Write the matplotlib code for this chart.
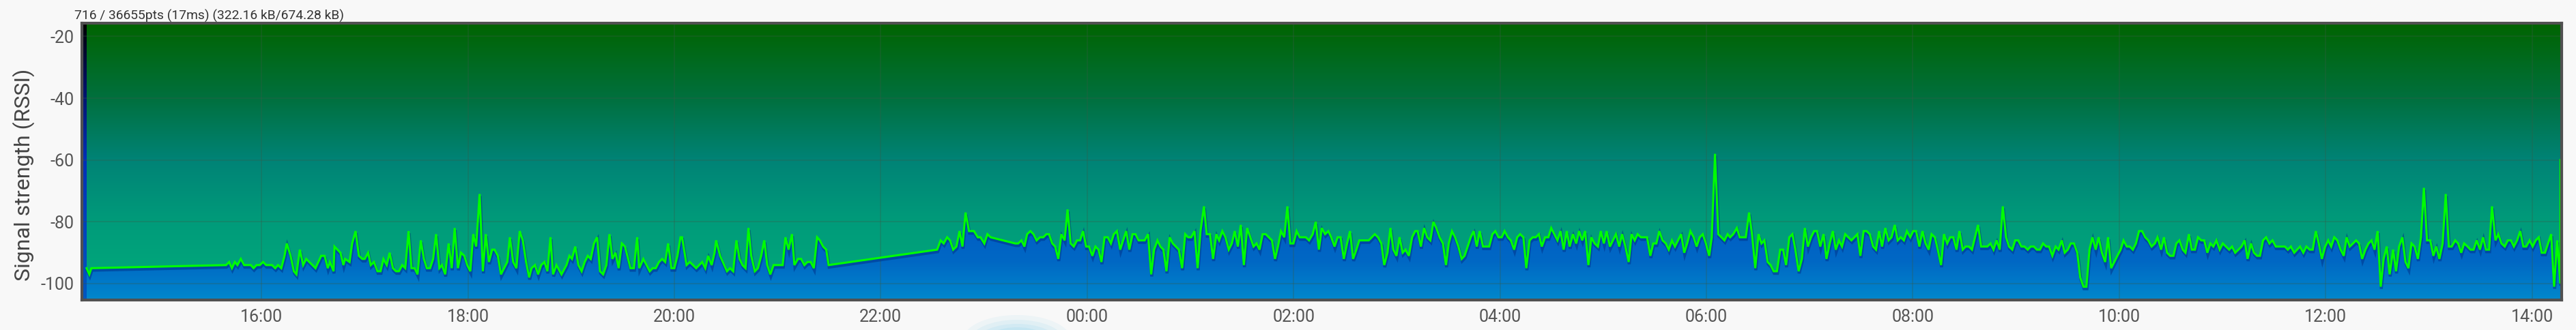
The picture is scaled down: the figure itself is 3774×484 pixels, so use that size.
import numpy as np
import matplotlib
matplotlib.use("Agg")
import matplotlib.pyplot as plt
import matplotlib.patheffects as pe
from matplotlib.colors import LinearSegmentedColormap
from matplotlib.patches import Ellipse

plt.rcParams['font.family'] = ['Roboto', 'DejaVu Sans']

# ---------------- data ----------------
# time in minutes since 14:00 (day 1), RSSI in dBm
sample_minutes = [
    18.3, 19.9, 21.1, 99.4, 101.2, 102.8, 104.5, 106.0, 108.0, 109.9,
    113.8, 115.4, 117.1, 119.0, 120.9, 122.7, 126.1, 128.0, 129.6, 131.5,
    133.4, 134.7, 136.9, 138.8, 140.3, 142.3, 144.2, 146.0, 149.6, 151.4,
    154.7, 156.7, 158.5, 159.8, 161.9, 162.4, 165.9, 167.6, 168.6, 171.2,
    172.7, 174.7, 176.6, 178.6, 180.0, 182.0, 183.5, 185.4, 187.4, 189.2,
    190.9, 192.8, 194.5, 196.4, 198.2, 199.9, 201.8, 203.6, 205.5, 207.2,
    209.0, 210.7, 212.6, 214.4, 216.1, 218.0, 219.8, 221.5, 223.4, 224.9,
    226.8, 228.8, 230.6, 232.3, 234.2, 236.0, 237.9, 239.6, 241.4, 243.1,
    244.8, 246.8, 248.7, 250.4, 252.2, 254.1,
    255.5, 257.4, 259.2, 262.9, 264.4, 266.3, 268.2, 270.1, 271.9, 273.8,
    275.6, 277.0, 279.0, 280.8, 282.6, 284.5, 286.2, 288.0, 289.5, 291.5,
    294.4, 297.3, 299.0, 300.5, 302.4, 304.2, 306.1, 307.9, 309.7, 311.4,
    313.3, 315.1, 316.8, 318.6, 320.5, 322.3, 324.0, 325.8, 327.6, 329.5,
    331.3, 334.5, 336.5, 338.4, 339.6, 342.0, 345.7, 347.4, 349.2, 351.1,
    352.9, 354.7, 356.4, 358.3, 360.0, 361.8, 363.6, 364.5, 367.1, 369.0,
    372.7, 376.2, 378.0, 379.7, 381.7, 383.4, 384.3, 386.6, 390.6, 392.4,
    394.2, 396.1, 397.9, 399.6, 401.4, 403.1, 404.7, 406.8, 408.6, 410.5,
    412.3, 414.0, 415.8, 417.7, 423.0, 424.6, 426.4, 428.4, 429.8, 431.9,
    433.7, 435.6, 437.4, 439.3, 441.1, 443.0, 444.6, 446.5, 448.3, 449.7,
    512.8, 514.8, 516.6, 518.6, 520.3, 522.1, 524.0, 525.8, 527.5, 529.3,
    531.3, 534.2, 536.4, 538.0, 540.2, 542.0, 543.9, 558.2, 559.9, 561.8,
    563.5, 565.1, 567.0, 568.8, 570.6, 572.6, 574.5, 576.3, 577.8, 579.7,
    581.4, 583.2, 585.0, 586.9, 588.6, 590.4, 592.2, 594.1, 595.9, 597.6,
    599.4, 601.1, 603.0, 604.8, 606.6, 608.3, 610.1, 612.0, 613.8, 615.5,
    617.3, 619.2, 620.9, 622.7, 624.5, 626.4, 628.1, 629.9, 633.4, 635.4,
    637.2, 638.9, 640.9, 642.6, 644.3, 646.1, 648.0, 649.8, 653.3, 655.2,
    657.0, 658.7, 660.5, 662.4, 664.2, 665.9, 667.9, 669.5, 671.4, 673.2,
    675.1, 676.7, 678.6, 680.4, 682.3, 684.1, 685.8, 687.6, 689.3, 691.1,
    693.0, 696.7, 698.5, 700.2, 702.0, 703.8, 707.4, 709.2, 710.9, 712.7,
    714.6, 716.4, 718.1, 719.9, 721.8, 723.6, 727.1, 729.0,
    731.1, 732.9, 734.7, 736.4, 738.3, 740.2, 741.9, 743.8, 745.6, 747.3,
    749.2, 751.1, 752.8, 754.6, 756.5, 758.2, 763.7, 767.2, 769.1, 771.0,
    772.7, 774.6, 776.3, 778.0, 779.8, 781.6, 783.4, 785.1, 787.0, 788.9,
    790.7, 792.1, 794.0, 795.9, 797.7, 799.5, 801.3, 803.0, 804.9, 806.8,
    808.6, 810.2, 812.1, 813.9, 815.8, 817.7, 819.4, 823.0, 824.7, 826.5,
    828.2, 830.1, 833.7, 835.6, 837.3, 839.1, 841.0, 842.7, 844.6, 846.3,
    848.2, 850.0, 851.7, 853.6, 855.3, 857.2, 859.0, 860.8, 862.6, 864.3,
    866.2, 868.1, 869.8, 871.6, 873.4, 875.2, 877.0, 878.8, 880.5, 882.4,
    884.3, 886.0, 887.8, 889.5, 891.4, 893.1, 895.0, 896.9, 898.6, 900.4,
    902.0, 903.9, 907.4, 909.3, 911.0, 912.9, 914.8, 916.5, 918.3, 920.0,
    921.9, 925.5, 927.4, 929.1, 930.9, 932.6, 934.5, 936.4, 938.1, 940.0,
    941.7, 945.3, 947.1, 948.8, 950.7, 952.6, 954.3, 956.1, 957.9, 959.7,
    961.6, 963.1, 965.0, 966.9, 970.5, 972.3,
    973.8, 975.6, 977.7, 979.4, 982.9, 984.8, 986.5, 988.4, 990.3, 992.0,
    993.7, 995.6, 997.3, 999.1, 1001.0, 1002.9, 1004.6, 1006.3, 1008.2, 1010.0,
    1011.7, 1013.6, 1015.5, 1017.2, 1019.0, 1020.8, 1022.6, 1024.3, 1026.2, 1028.1,
    1029.8, 1031.7, 1033.5, 1035.2, 1037.1, 1038.8, 1040.7, 1044.3, 1047.8, 1049.5,
    1051.4, 1053.1, 1055.0, 1056.9, 1058.6, 1060.4, 1062.1, 1064.0, 1065.9, 1067.6,
    1069.5, 1071.2, 1073.0, 1074.8, 1076.6, 1078.5, 1080.2, 1081.9, 1083.8, 1085.6,
    1087.4, 1089.2, 1090.9, 1092.8, 1094.5, 1096.4, 1098.1, 1100.0, 1101.7, 1103.5,
    1105.4, 1107.1, 1109.0, 1110.7, 1112.6, 1114.4, 1117.9, 1119.7, 1123.3, 1125.2,
    1126.9, 1128.7, 1130.5, 1132.3, 1134.2, 1135.9, 1137.8, 1139.5, 1141.3, 1143.1,
    1144.9, 1146.8, 1148.5, 1150.4, 1152.1, 1153.9, 1155.7, 1157.5, 1159.2, 1161.1,
    1163.0, 1164.7, 1166.6, 1168.3, 1170.1, 1171.8, 1173.7, 1175.6, 1177.3, 1179.2,
    1180.9, 1182.7, 1184.4, 1186.3, 1188.0, 1189.9, 1191.8, 1193.5, 1195.3, 1197.1,
    1198.9, 1200.8, 1202.5, 1204.4, 1206.1, 1207.9, 1209.7, 1211.5, 1213.3, 1215.1,
    1216.9, 1218.8, 1220.7, 1222.3, 1224.3, 1226.0, 1227.8, 1229.6, 1231.5, 1233.2,
    1235.0, 1236.9, 1238.5, 1240.5, 1242.2, 1244.0, 1245.8, 1247.7, 1249.4, 1251.2,
    1253.0, 1254.7, 1256.5, 1258.4, 1260.2, 1262.0, 1263.9, 1265.6, 1267.4, 1269.3,
    1271.1, 1272.9, 1274.6, 1276.6, 1278.3, 1280.1, 1281.8, 1283.6, 1285.4, 1287.3,
    1289.1, 1291.0, 1296.3, 1298.0, 1299.8, 1301.7, 1305.1, 1307.0, 1308.8, 1310.7,
    1312.5, 1314.3, 1316.0, 1317.8, 1319.7, 1321.5, 1323.2, 1325.0, 1326.8, 1328.7,
    1330.5, 1332.2, 1334.0, 1335.9, 1337.7, 1339.4, 1341.2, 1343.1, 1344.9, 1346.7,
    1348.4, 1350.2, 1352.0, 1353.7, 1355.5, 1357.2, 1359.2, 1360.9, 1362.7, 1364.6,
    1366.4, 1368.1, 1369.9, 1371.7, 1373.6, 1375.4, 1377.1, 1378.9, 1380.8, 1382.6,
    1384.3, 1386.1, 1388.0, 1389.8, 1391.6, 1393.3, 1395.3, 1397.0, 1398.8, 1400.5,
    1402.5, 1404.2, 1406.0, 1407.8, 1409.7, 1411.5, 1413.2, 1415.0, 1416.7, 1418.7,
    1420.4, 1422.2, 1424.1, 1425.9, 1427.7, 1429.4, 1431.3, 1433.1, 1434.9, 1436.6,
    1438.6, 1440.3, 1442.1, 1443.9, 1445.6, 1447.5, 1449.3, 1451.1, 1452.8, 1454.6,
    1456.4, 1456.5,
]

sample_rssi = [
    -95, -97, -95, -94, -93, -95, -93, -94, -92, -94,
    -94, -95, -94, -94, -93, -94, -94, -95, -94, -95,
    -91, -87, -91, -96, -97, -89, -94, -92, -94, -95,
    -91, -91, -95, -93, -96, -88, -90, -94, -92, -93,
    -87, -83, -91, -92, -92, -90, -94, -93, -96, -96,
    -92, -94, -90, -95, -96, -96, -94, -95, -83, -95,
    -95, -97, -86, -92, -95, -95, -92, -84, -95, -94,
    -97, -87, -95, -82, -95, -90, -91, -94, -96, -84,
    -88, -71, -96, -84, -93, -89,
    -89, -91, -97, -93, -85, -93, -95, -83, -86, -93,
    -98, -95, -94, -97, -94, -93, -96, -85, -97, -94,
    -97, -94, -91, -92, -88, -94, -96, -93, -91, -92,
    -87, -85, -96, -97, -94, -84, -92, -90, -95, -87,
    -88, -95, -95, -85, -95, -92, -96, -95, -95, -93,
    -92, -93, -87, -95, -95, -91, -85, -85, -94, -93,
    -95, -93, -95, -91, -94, -90, -86, -91, -96, -95,
    -96, -86, -92, -94, -95, -82, -91, -96, -95, -91,
    -86, -94, -97, -94, -94, -85, -89, -84, -94, -92,
    -92, -94, -93, -93, -95, -85, -86, -88, -89, -94,
    -89, -86, -87, -85, -86, -89, -88, -83, -88, -77,
    -83, -83, -85, -85, -87, -84, -85, -87, -87, -86,
    -88, -84, -83, -84, -86, -85, -85, -84, -84, -87,
    -88, -92, -84, -86, -76, -87, -88, -86, -86, -83,
    -88, -88, -91, -88, -89, -93, -85, -85, -87, -84,
    -83, -89, -86, -83, -89, -84, -84, -86, -86, -84,
    -97, -89, -86, -88, -89, -96, -85, -87, -89, -95,
    -84, -85, -85, -83, -95, -83, -75, -84, -84, -92,
    -84, -86, -83, -85, -89, -87, -83, -88, -81, -94,
    -82, -88, -87, -89, -84, -84, -86, -92, -88, -83,
    -85, -75, -87, -87, -83, -85, -85, -86,
    -84, -80, -89, -82, -84, -83, -85, -88, -85, -85,
    -92, -87, -83, -92, -89, -86, -86, -84, -85, -87,
    -94, -90, -82, -89, -91, -85, -90, -89, -91, -85,
    -83, -83, -88, -82, -85, -86, -80, -82, -85, -87,
    -94, -87, -83, -85, -88, -92, -91, -85, -83, -88,
    -83, -88, -88, -84, -83, -85, -85, -83, -85, -86,
    -89, -85, -84, -85, -95, -86, -85, -85, -84, -88,
    -85, -85, -82, -84, -86, -83, -89, -83, -88, -84,
    -87, -83, -86, -83, -94, -85, -87, -88, -83, -87,
    -83, -88, -84, -88, -84, -88, -93, -84, -86, -84,
    -85, -85, -91, -87, -87, -83, -86, -87, -89, -86,
    -88, -84, -90, -87, -83, -85, -88, -85, -84, -87,
    -91, -85, -58, -84, -86, -84,
    -85, -84, -82, -85, -85, -77, -84, -95, -84, -87,
    -86, -93, -94, -96, -96, -89, -89, -94, -85, -84,
    -89, -96, -92, -82, -88, -85, -83, -83, -88, -84,
    -92, -87, -83, -89, -86, -88, -84, -86, -84, -91,
    -83, -83, -84, -88, -89, -83, -88, -82, -86, -85,
    -81, -86, -85, -86, -83, -85, -83, -83, -88, -83,
    -87, -89, -84, -85, -89, -94, -84, -87, -85, -85,
    -89, -83, -89, -88, -88, -89, -81, -88, -88, -87,
    -89, -86, -89, -75, -85, -88, -89, -86, -86, -88,
    -88, -89, -88, -88, -89, -89, -87, -88, -88, -91,
    -88, -89, -86, -90, -89, -87, -87, -90, -98, -101,
    -101, -89, -85, -89, -85, -90, -93, -85, -95, -93,
    -91, -89, -86, -88, -88, -89, -87, -83, -83, -85,
    -86, -88, -87, -85, -89, -85, -90, -91, -91, -87,
    -86, -89, -90, -84, -89, -89, -85, -86, -86, -90,
    -87, -88, -86, -89, -87, -88, -89, -88, -90, -89,
    -88, -86, -92, -87, -90, -91, -91, -86, -85, -87,
    -86, -88, -88, -89, -88, -90, -88, -90, -88, -89,
    -89, -83, -87, -92, -88, -86, -88, -85, -86, -89,
    -91, -85, -88, -87, -86, -87, -92, -89, -87, -86,
    -89, -83, -101, -92, -88, -97, -89, -96, -88, -85,
    -93, -95, -87, -88, -92, -85, -69, -86, -86, -91,
    -88, -92, -87, -71, -88, -88, -86, -87, -90, -87,
    -88, -89, -89, -86, -89, -85, -89, -89, -75, -86,
    -84, -87, -88, -86, -86, -88, -86, -83, -88, -88,
    -86, -88, -86, -85, -90, -90, -87, -84, -101, -86,
    -100, -60,
]

x_tick_minutes = [120, 240, 360, 480, 600, 720, 840, 960, 1080, 1200, 1320, 1440]
x_tick_labels = ["16:00", "18:00", "20:00", "22:00", "00:00", "02:00",
                 "04:00", "06:00", "08:00", "10:00", "12:00", "14:00"]
y_ticks = [-20, -40, -60, -80, -100]
y_tick_labels = ["-20", "-40", "-60", "-80", "-100"]

y_label = "Signal strength (RSSI)"
info_text = "716 / 36655pts (17ms) (322.16 kB/674.28 kB)"

assert len(sample_minutes) == len(sample_rssi)
t = np.array(sample_minutes, dtype=float)
v = np.array(sample_rssi, dtype=float)

# ---------------- layout ----------------
W, H = 3774, 484
x_left, x_right = 15.6, 1457.2
y_bottom, y_top = -105.3, -15.6

fig = plt.figure(figsize=(W / 100, H / 100), dpi=100, facecolor='#f8f8f8')
ax = fig.add_axes([120 / W, 44 / H, (3753 - 120) / W, (440 - 33.5) / H])


def ycmap(name, stops):
    # stops: list of (y value, hex colour)
    pos = [(y - y_bottom) / (y_top - y_bottom) for y, _ in stops]
    return LinearSegmentedColormap.from_list(name, list(zip(pos, [c for _, c in stops])))


bg_cmap = ycmap("bg", [(y_bottom, "#00ac7c"), (-80, "#009b7a"), (-60, "#008376"),
                       (-40, "#00703e"), (y_top, "#006400")])
grad = np.linspace(0, 1, 512).reshape(-1, 1)
ax.imshow(grad, extent=[x_left, x_right, y_bottom, y_top], origin='lower',
          aspect='auto', cmap=bg_cmap, zorder=0, interpolation='bilinear')

# area fill with blue gradient
fill_cmap = ycmap("fill", [(y_bottom, "#0088cc"), (-93, "#0068c4"), (-75, "#0058c6"),
                           (y_top, "#0040c0")])
poly = ax.fill_between(t, v, y_bottom, facecolor='none', edgecolor='none', zorder=1)
fim = ax.imshow(grad, extent=[x_left, x_right, y_bottom, y_top], origin='lower',
                aspect='auto', cmap=fill_cmap, zorder=1, interpolation='bilinear')
fim.set_clip_path(poly.get_paths()[0], transform=ax.transData)

# left strip (black to blue)
strip_cmap = ycmap("strip", [(y_bottom, "#0058c0"), (-60, "#0030b8"), (-35, "#001060"),
                             (y_top, "#000000")])
sim = ax.imshow(grad, extent=[x_left, t[0], y_bottom, y_top], origin='lower',
                aspect='auto', cmap=strip_cmap, zorder=1.2, interpolation='bilinear')

# grid
ax.set_axisbelow(False)
ax.grid(True, color='#3c5a46', alpha=0.35, linewidth=1.1)

# line with shadow
ax.plot(t, v, color='#00ff00', linewidth=2.2, zorder=3, solid_joinstyle='miter',
        path_effects=[pe.SimpleLineShadow(offset=(0.6, -2.2), shadow_color='#00348a',
                                          alpha=0.55, linewidth=3.2),
                      pe.Normal()])

ax.set_xlim(x_left, x_right)
ax.set_ylim(y_bottom, y_top)

ax.set_xticks(x_tick_minutes)
ax.set_xticklabels(x_tick_labels)
ax.set_yticks(y_ticks)
ax.set_yticklabels(y_tick_labels)
ax.tick_params(axis='both', length=0, labelsize=18, labelcolor='#555555')
ax.tick_params(axis='x', pad=9)
ax.tick_params(axis='y', pad=8)

for s in ax.spines.values():
    s.set_color('#505050')
    s.set_linewidth(3)
    s.set_zorder(5)

fig.text(35 / W, 1 - 256.5 / H, y_label, rotation=90, ha='center', va='center',
         fontsize=23, color='#444444')
fig.text(109 / W, 1 - 28.5 / H, info_text, ha='left', va='baseline',
         fontsize=13.9, color='#333333')

# soft light-blue glow below the axis
for w, h, a in [(160, 76, 0.12), (138, 62, 0.16), (116, 50, 0.2), (92, 40, 0.25), (70, 30, 0.3)]:
    e = Ellipse((1490 / W, -16 / H), width=w / W, height=h / H, transform=fig.transFigure,
                facecolor='#9ed8ef', edgecolor='none', alpha=a, clip_on=False)
    fig.add_artist(e)

fig.savefig('out.png', dpi=100, facecolor=fig.get_facecolor())
